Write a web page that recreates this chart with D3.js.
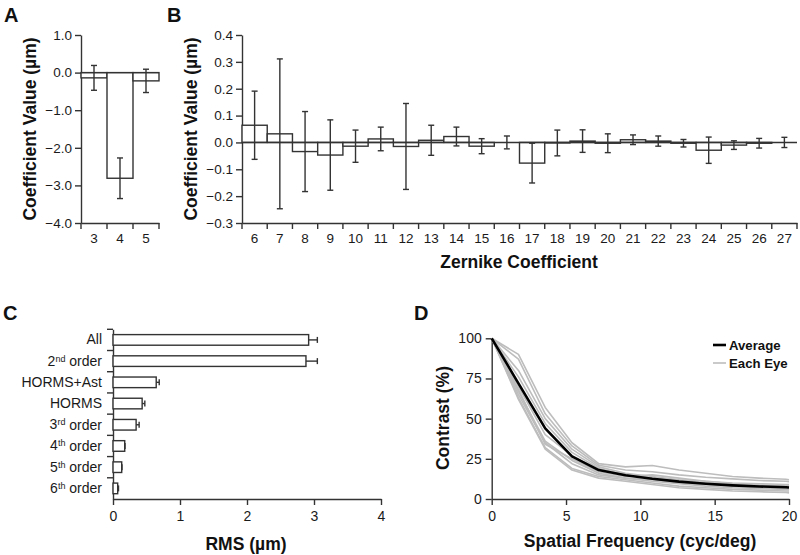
<!DOCTYPE html>
<html>
<head>
<meta charset="utf-8">
<script src="https://cdn.jsdelivr.net/npm/d3@7"></script>
<style>
  html, body { margin: 0; padding: 0; background: #fff; }
  svg { display: block; font-family: "Liberation Sans", Arial, Helvetica, sans-serif; }
  .tick text { fill: #1a1a1a; }
</style>
</head>
<body>
<svg id="chart" width="800" height="555"></svg>
<script>
// ---------- Panel A data ----------
const zernA = ["3", "4", "5"];
const meanA = [-0.14, -2.81, -0.22];
const sdA = [0.33, 0.54, 0.31];
const ticksA = [1, 0, -1, -2, -3, -4];

// ---------- Panel B data ----------
const zernB = ["6","7","8","9","10","11","12","13","14","15","16","17","18","19","20","21","22","23","24","25","26","27"];
const meanB = [0.064, 0.032, -0.034, -0.047, -0.014, 0.013, -0.015, 0.008, 0.022, -0.014, 0.0, -0.077, -0.002, 0.005, -0.003, 0.010, 0.005, -0.003, -0.029, -0.010, -0.003, 0.0];
const sdB = [0.127, 0.279, 0.149, 0.131, 0.060, 0.044, 0.160, 0.056, 0.035, 0.028, 0.024, 0.074, 0.048, 0.042, 0.035, 0.018, 0.019, 0.014, 0.049, 0.016, 0.018, 0.019];
const ticksB = [0.4, 0.3, 0.2, 0.1, 0.0, -0.1, -0.2, -0.3];

// ---------- Panel C data ----------
const rmsCategories = ["All", "2nd order", "HORMS+Ast", "HORMS", "3rd order", "4th order", "5th order", "6th order"];
const rmsMean = [2.92, 2.88, 0.645, 0.435, 0.345, 0.175, 0.13, 0.07];
const rmsSd = [0.13, 0.17, 0.045, 0.04, 0.045, 0.004, 0.004, 0.012];
const ticksC = [0, 1, 2, 3, 4];

// ---------- Panel D data ----------
const freqD = [0, 1.8, 3.6, 5.4, 7.2, 9, 10.8, 12.6, 14.4, 16.2, 18, 19.8, 20];
const averageD = [100, 72, 44, 26.5, 18, 14.8, 12.6, 10.8, 9.5, 8.5, 7.8, 7.3, 7.2];
const eye1 = [100, 90, 57, 35, 22, 20, 20.8, 18, 16, 14, 13, 12.3, 12];
const eye2 = [100, 87, 53, 33, 21, 18, 17, 15, 13.5, 12.5, 11.5, 11, 10.8];
const eye3 = [100, 80, 50, 31, 20, 16, 14, 12, 11, 10, 9.5, 9, 9];
const eye4 = [100, 76, 47, 29, 19, 15, 13, 11, 10, 9, 8.5, 8, 8];
const eye5 = [100, 70, 40, 27, 18, 15, 13, 11.5, 10, 9, 8, 7.5, 7.5];
const eye6 = [100, 67, 36, 24, 16, 13, 11, 9.5, 8, 7, 6.5, 6, 6];
const eye7 = [100, 65, 35, 22, 15, 13, 12, 10, 9, 8, 7, 6.5, 6.5];
const eye8 = [100, 63, 32, 19, 14, 12, 10, 8, 7, 6, 5.5, 5, 5];
const eye9 = [100, 62, 31, 18, 13, 11, 9, 7, 6, 5, 4.5, 4, 3.8];
const eye10 = [100, 68, 34, 25, 17, 14, 15, 13, 11, 9.5, 8.5, 8, 8];
const eachEye = [eye1, eye2, eye3, eye4, eye5, eye6, eye7, eye8, eye9, eye10];
const ticksDx = [0, 5, 10, 15, 20];
const ticksDy = [0, 25, 50, 75, 100];

const svg = d3.select("#chart");
const AX = "#333";
const FONT_TICK = 13.5;
const FONT_TITLE = 17.5;

function styleAxis(g, fs) {
  g.selectAll(".domain").attr("stroke", AX).attr("stroke-width", 1.4);
  g.selectAll(".tick line").attr("stroke", AX).attr("stroke-width", 1.4);
  g.selectAll(".tick text").attr("font-size", fs).attr("fill", "#1a1a1a");
}

function panelLetter(t, x, y) {
  svg.append("text").attr("x", x).attr("y", y).attr("font-size", 20)
    .attr("font-weight", "bold").attr("fill", "#111").text(t);
}

function vTitle(t, x, y) {
  svg.append("text").attr("transform", `translate(${x},${y}) rotate(-90)`)
    .attr("text-anchor", "middle").attr("dominant-baseline", "central")
    .attr("font-size", FONT_TITLE).attr("font-weight", "bold").attr("fill", "#111").text(t);
}

function hTitle(t, x, y) {
  svg.append("text").attr("x", x).attr("y", y).attr("text-anchor", "middle")
    .attr("font-size", FONT_TITLE).attr("font-weight", "bold").attr("fill", "#111").text(t);
}

// Bar panel with band x and linear y (Panels A, B)
function zernPanel(cats, means, sds, ticks, xr, yDomain, fmt) {
  const x = d3.scaleBand().domain(cats).range(xr).padding(0);
  const y = d3.scaleLinear().domain(yDomain).range([223, 35]);
  const g = svg.append("g");

  // y axis
  const ya = g.append("g").attr("transform", `translate(${xr[0]},0)`)
    .call(d3.axisLeft(y).tickValues(ticks).tickFormat(d3.format(fmt)).tickSize(6).tickPadding(3).tickSizeOuter(0));
  styleAxis(ya, FONT_TICK);

  // x axis: labels at band centres, tick marks at band boundaries
  const xa = g.append("g").attr("transform", `translate(0,${y(yDomain[0])})`)
    .call(d3.axisBottom(x).tickSize(0).tickPadding(10).tickSizeOuter(0));
  styleAxis(xa, FONT_TICK);
  const bounds = d3.range(cats.length + 1).map(i => xr[0] + i * x.step());
  xa.selectAll("line.bound").data(bounds).join("line").attr("class", "bound")
    .attr("x1", d => d).attr("x2", d => d).attr("y1", 0).attr("y2", 6)
    .attr("stroke", AX).attr("stroke-width", 1.4);

  // bars
  g.selectAll("rect.bar").data(cats).join("rect").attr("class", "bar")
    .attr("x", d => x(d)).attr("width", x.bandwidth())
    .attr("y", (d, i) => Math.min(y(0), y(means[i])))
    .attr("height", (d, i) => Math.abs(y(means[i]) - y(0)))
    .attr("fill", "#fff").attr("stroke", AX).attr("stroke-width", 1.4);

  // zero line
  g.append("line").attr("x1", xr[0]).attr("x2", xr[1]).attr("y1", y(0)).attr("y2", y(0))
    .attr("stroke", AX).attr("stroke-width", 1.4);

  // error bars
  const eb = g.selectAll("g.err").data(cats).join("g").attr("class", "err");
  const cx = d => x(d) + x.bandwidth() / 2;
  eb.append("line").attr("x1", cx).attr("x2", cx)
    .attr("y1", (d, i) => y(means[i] + sds[i])).attr("y2", (d, i) => y(means[i] - sds[i]))
    .attr("stroke", AX).attr("stroke-width", 1.4);
  [1, -1].forEach(s => {
    eb.append("line").attr("x1", d => cx(d) - 3).attr("x2", d => cx(d) + 3)
      .attr("y1", (d, i) => y(means[i] + s * sds[i])).attr("y2", (d, i) => y(means[i] + s * sds[i]))
      .attr("stroke", AX).attr("stroke-width", 1.4);
  });
}

// ---------- Panel A ----------
panelLetter("A", 4, 22);
zernPanel(zernA, meanA, sdA, ticksA, [81, 159], [-4, 1], ".1f");
vTitle("Coefficient Value (µm)", 30, 129);

// ---------- Panel B ----------
panelLetter("B", 167, 22);
zernPanel(zernB, meanB, sdB, ticksB, [242, 797], [-0.3, 0.4], ".1f");
vTitle("Coefficient Value (µm)", 191, 129);
hTitle("Zernike Coefficient", 519, 268);

// ---------- Panel C ----------
panelLetter("C", 3, 320);
(function () {
  const y = d3.scaleBand().domain(rmsCategories).range([329.3, 499]).paddingInner(0.5).paddingOuter(0.25);
  const x = d3.scaleLinear().domain([0, 4]).range([113, 381]);
  const g = svg.append("g");

  const xa = g.append("g").attr("transform", "translate(0,499)")
    .call(d3.axisBottom(x).tickValues(ticksC).tickFormat(d3.format("d")).tickSize(6).tickPadding(6).tickSizeOuter(0));
  styleAxis(xa, 14);

  const ya = g.append("g").attr("transform", "translate(113,0)")
    .call(d3.axisLeft(y).tickSize(0).tickPadding(11).tickSizeOuter(0).tickFormat(() => ""));
  styleAxis(ya, 14);
  // labels with superscripts
  ya.selectAll(".tick text").each(function (d) {
    const t = d3.select(this);
    const m = d.match(/^(\d)(st|nd|rd|th)(.*)$/);
    if (m) {
      t.append("tspan").text(m[1]);
      t.append("tspan").attr("font-size", 9).attr("dy", "-0.45em").text(m[2]);
      t.append("tspan").attr("dy", "0.32em").text(m[3]);
    } else {
      t.text(d);
    }
  });
  const step = y.step();
  const bounds = d3.range(rmsCategories.length).map(i => 329.3 + i * step);
  ya.selectAll("line.bound").data(bounds).join("line").attr("class", "bound")
    .attr("x1", -6).attr("x2", 0).attr("y1", d => d).attr("y2", d => d)
    .attr("stroke", AX).attr("stroke-width", 1.4);

  g.selectAll("rect.bar").data(rmsCategories).join("rect").attr("class", "bar")
    .attr("x", x(0)).attr("y", d => y(d))
    .attr("width", (d, i) => x(rmsMean[i]) - x(0)).attr("height", y.bandwidth())
    .attr("fill", "#fff").attr("stroke", AX).attr("stroke-width", 1.4);

  const eb = g.selectAll("g.err").data(rmsCategories).join("g").attr("class", "err");
  const cy = d => y(d) + y.bandwidth() / 2;
  eb.append("line").attr("x1", (d, i) => x(rmsMean[i])).attr("x2", (d, i) => x(rmsMean[i] + rmsSd[i]))
    .attr("y1", cy).attr("y2", cy).attr("stroke", AX).attr("stroke-width", 1.4);
  eb.append("line").attr("x1", (d, i) => x(rmsMean[i] + rmsSd[i])).attr("x2", (d, i) => x(rmsMean[i] + rmsSd[i]))
    .attr("y1", d => cy(d) - 3).attr("y2", d => cy(d) + 3).attr("stroke", AX).attr("stroke-width", 1.4);

  hTitle("RMS (µm)", 246, 550);
})();

// ---------- Panel D ----------
panelLetter("D", 414, 320);
(function () {
  const x = d3.scaleLinear().domain([0, 20]).range([491.7, 789]);
  const y = d3.scaleLinear().domain([0, 100]).range([499, 338.3]);
  const g = svg.append("g");

  const xa = g.append("g").attr("transform", "translate(0,499)")
    .call(d3.axisBottom(x).tickValues(ticksDx).tickSize(6).tickPadding(6).tickSizeOuter(0));
  styleAxis(xa, 14);
  const ya = g.append("g").attr("transform", "translate(491.7,0)")
    .call(d3.axisLeft(y).tickValues(ticksDy).tickSize(6).tickPadding(4).tickSizeOuter(0));
  styleAxis(ya, 14);

  const line = d3.line().x((d, i) => x(freqD[i])).y(d => y(d));
  g.selectAll("path.eye").data(eachEye).join("path").attr("class", "eye")
    .attr("d", line).attr("fill", "none").attr("stroke", "#bdbdbd").attr("stroke-width", 1.6)
    .attr("stroke-linejoin", "round");
  g.append("path").datum(averageD).attr("d", line).attr("fill", "none")
    .attr("stroke", "#000").attr("stroke-width", 2.6).attr("stroke-linejoin", "round");

  // legend
  const lg = g.append("g");
  lg.append("line").attr("x1", 713).attr("x2", 726).attr("y1", 345).attr("y2", 345)
    .attr("stroke", "#000").attr("stroke-width", 2.6);
  lg.append("text").attr("x", 729).attr("y", 345).attr("dominant-baseline", "central")
    .attr("font-size", 13.2).attr("font-weight", "bold").attr("fill", "#111").text("Average");
  lg.append("line").attr("x1", 713).attr("x2", 726).attr("y1", 363).attr("y2", 363)
    .attr("stroke", "#bdbdbd").attr("stroke-width", 1.6);
  lg.append("text").attr("x", 729).attr("y", 363).attr("dominant-baseline", "central")
    .attr("font-size", 13.2).attr("font-weight", "bold").attr("fill", "#111").text("Each Eye");

  vTitle("Contrast (%)", 443, 418);
  hTitle("Spatial Frequency (cyc/deg)", 640, 547);
})();
</script>
</body>
</html>
